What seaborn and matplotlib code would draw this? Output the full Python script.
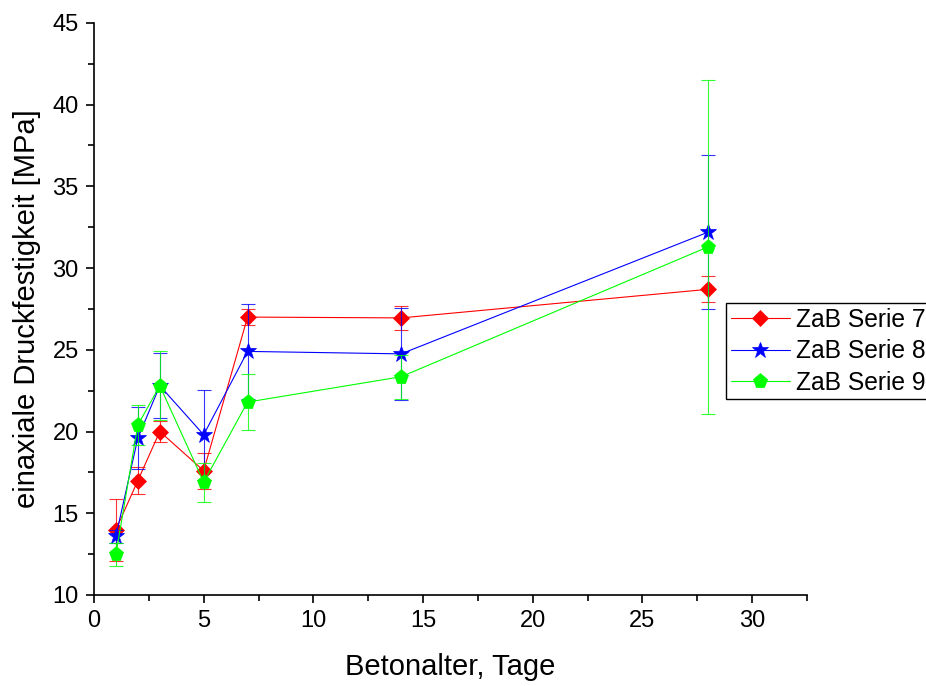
import matplotlib
matplotlib.use("Agg")
import matplotlib.pyplot as plt
import seaborn as sns
import pandas as pd
from matplotlib.ticker import MultipleLocator

# Betonalter in Tagen
tage = [1, 2, 3, 5, 7, 14, 28]

# Mittelwerte und Standardabweichungen der einaxialen Druckfestigkeit [MPa]
serie7_mittel = [14.0, 17.0, 20.0, 17.6, 27.0, 26.95, 28.7]
serie7_fehler = [1.9, 0.85, 0.65, 1.1, 0.5, 0.75, 0.8]

serie8_mittel = [13.6, 19.6, 22.8, 19.8, 24.9, 24.75, 32.2]
serie8_fehler = [0.4, 1.9, 2.0, 2.75, 2.9, 2.8, 4.7]

serie9_mittel = [12.5, 20.4, 22.8, 16.9, 21.8, 23.35, 31.3]
serie9_fehler = [0.7, 1.25, 2.1, 1.2, 1.7, 1.35, 10.2]

serien = ["ZaB Serie 7", "ZaB Serie 8", "ZaB Serie 9"]

sns.set_theme(style="ticks")
plt.rcParams["font.family"] = ["Liberation Sans", "DejaVu Sans"]
plt.rcParams["text.color"] = "black"
plt.rcParams["axes.labelcolor"] = "black"
plt.rcParams["xtick.color"] = "black"
plt.rcParams["ytick.color"] = "black"

fig = plt.figure(figsize=(9.26, 6.86), dpi=100)
ax = fig.add_axes([0.1015, 0.1327, 0.77, 0.834])

daten = [
    (serien[0], serie7_mittel, serie7_fehler, "#ff0000", "D", 8.0),
    (serien[1], serie8_mittel, serie8_fehler, "#0000ff", "*", 12.0),
    (serien[2], serie9_mittel, serie9_fehler, "#00ff00", "p", 11.0),
]

for i, (name, mittel, fehler, farbe, marker, ms) in enumerate(daten):
    df = pd.DataFrame({"Tage": tage, "Festigkeit": mittel})
    ax.errorbar(tage, mittel, yerr=fehler, fmt="none", ecolor=farbe,
                elinewidth=0.8, capsize=5, capthick=0.8, zorder=2 + 2 * i,
                alpha=0.8)
    sns.lineplot(data=df, x="Tage", y="Festigkeit", ax=ax, color=farbe,
                 linewidth=0.8, alpha=1.0, marker=marker, markersize=ms,
                 markeredgecolor=farbe, markeredgewidth=0.5,
                 label=name, zorder=3 + 2 * i)

ax.set_xlim(0, 32.5)
ax.set_ylim(10, 45)
ax.xaxis.set_major_locator(MultipleLocator(5))
ax.xaxis.set_minor_locator(MultipleLocator(2.5))
ax.yaxis.set_major_locator(MultipleLocator(5))
ax.yaxis.set_minor_locator(MultipleLocator(2.5))

for side in ["top", "right"]:
    ax.spines[side].set_visible(False)
for side in ["left", "bottom"]:
    ax.spines[side].set_linewidth(1.2)
    ax.spines[side].set_color("black")

ax.tick_params(which="major", direction="out", length=6, width=1.2,
               colors="black", labelsize=17, pad=5)
ax.tick_params(which="minor", direction="out", length=4, width=1.2,
               colors="black")

ax.set_xlabel("Betonalter, Tage", fontsize=21, labelpad=15, color="black")
ax.set_ylabel("einaxiale Druckfestigkeit [MPa]", fontsize=21, labelpad=8,
              color="black")

leg = ax.legend(loc="upper left", bbox_to_anchor=(0.886, 0.5105),
                borderaxespad=0, fontsize=17.7, frameon=True, fancybox=False,
                handlelength=2.4, handletextpad=0.25, labelspacing=0.3,
                borderpad=0.2)
for t in leg.get_texts():
    t.set_color("black")
leg.get_frame().set_edgecolor("black")
leg.get_frame().set_linewidth(1.0)
leg.get_frame().set_facecolor("white")
leg.get_frame().set_alpha(1)

fig.savefig("out.png", dpi=100)
